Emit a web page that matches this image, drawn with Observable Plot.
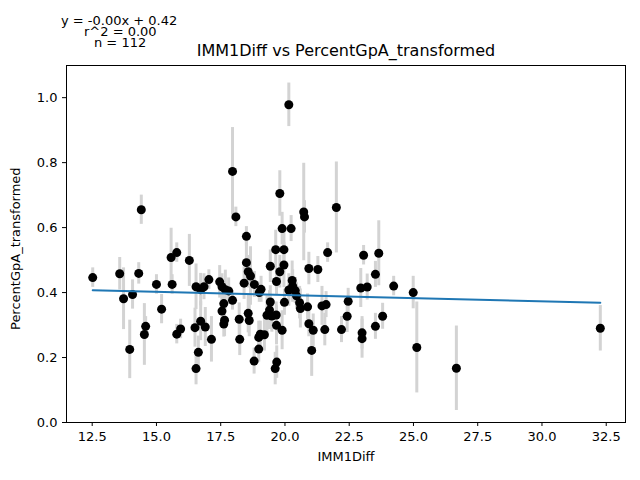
<!DOCTYPE html>
<html><head><meta charset="utf-8">
<script src="https://cdn.jsdelivr.net/npm/d3@7"></script>
<script src="https://cdn.jsdelivr.net/npm/@observablehq/plot@0.6"></script>
<style>
body{margin:0;background:#fff;font-family:"DejaVu Sans",sans-serif}
#wrap{position:relative;width:640px;height:480px}
.t{position:absolute;font-size:13px;white-space:pre;line-height:13px}
</style></head>
<body><div id="wrap"><div id="chart"></div>
<div class="t" style="left:61px;top:14px">y = -0.00x + 0.42</div>
<div class="t" style="left:84px;top:25px">r^2 = 0.00</div>
<div class="t" style="left:94px;top:36px">n = 112</div>
<div class="t" style="left:0;width:692px;text-align:center;top:43px;font-size:16px;line-height:16px">IMM1Diff vs PercentGpA_transformed</div>
<div class="t" style="left:0;width:692px;text-align:center;top:450px">IMM1Diff</div>
<div class="t" style="left:9px;top:243px;transform:translate(0,-50%) rotate(-90deg);transform-origin:7px 50%;width:0"><span style="position:absolute;left:-80px;top:-7px">PercentGpA_transformed</span></div>
</div>
<script>
let imm1Diff = [12.52,13.57,13.72,13.96,14.07,14.41,14.31,14.58,14.53,15.0,15.2,15.57,15.61,15.79,15.79,15.94,16.28,16.54,16.63,16.54,16.5,16.72,16.9,16.72,16.85,17.04,17.14,17.46,17.55,17.68,17.81,17.62,17.55,17.65,17.62,17.96,17.96,18.09,18.22,18.24,18.5,18.5,18.57,18.66,18.41,18.81,18.57,18.61,18.8,19.0,18.98,18.98,
  20.15,19.8,20.73,20.76,22.0,19.89,20.24,19.64,19.96,19.43,19.96,19.8,19.67,20.28,20.15,20.4,20.93,21.28,21.66,23.06,23.65,23.52,22.95,23.2,24.23,24.99,25.13,19.43,19.4,19.49,19.66,19.04,19.2,19.68,19.62,19.67,19.89,19.98,20.57,20.6,20.88,20.93,21.1,21.04,21.44,21.6,21.55,22.2,22.46,22.42,23.0,23.0,23.52,23.8,26.67,32.27,19.07,19.3,20.3,20.45]
let pctGpA = [0.446,0.458,0.381,0.225,0.394,0.655,0.459,0.296,0.271,0.425,0.349,0.508,0.425,0.523,0.272,0.288,0.499,0.166,0.216,0.418,0.292,0.312,0.294,0.409,0.418,0.44,0.256,0.433,0.418,0.409,0.405,0.366,0.343,0.315,0.303,0.376,0.773,0.633,0.318,0.256,0.573,0.492,0.464,0.451,0.429,0.425,0.336,0.314,0.189,0.4,0.262,0.226,
  0.978,0.705,0.648,0.633,0.662,0.597,0.597,0.532,0.532,0.481,0.485,0.464,0.434,0.437,0.408,0.406,0.474,0.471,0.523,0.515,0.521,0.456,0.414,0.417,0.42,0.4,0.231,0.371,0.346,0.328,0.331,0.272,0.27,0.186,0.166,0.299,0.284,0.37,0.369,0.351,0.356,0.304,0.284,0.222,0.359,0.363,0.286,0.286,0.373,0.327,0.276,0.258,0.296,0.327,0.167,0.29,0.41,0.33,0.42,0.39]
let pctErr = [0.03,0.05,0.095,0.09,0.045,0.045,0.033,0.03,0.095,0.03,0.045,0.09,0.03,0.03,0.03,0.03,0.08,0.05,0.05,0.07,0.06,0.06,0.06,0.05,0.04,0.03,0.07,0.05,0.04,0.06,0.04,0.05,0.04,0.05,0.04,0.03,0.135,0.03,0.05,0.05,0.03,0.07,0.05,0.09,0.05,0.04,0.06,0.05,0.04,0.03,0.05,0.04,
  0.067,0.07,0.15,0.05,0.14,0.05,0.04,0.06,0.06,0.05,0.07,0.05,0.04,0.06,0.05,0.04,0.05,0.04,0.03,0.03,0.1,0.04,0.06,0.04,0.03,0.05,0.14,0.05,0.06,0.05,0.04,0.04,0.05,0.05,0.05,0.06,0.06,0.04,0.05,0.06,0.04,0.04,0.05,0.08,0.06,0.04,0.05,0.04,0.04,0.05,0.05,0.06,0.04,0.04,0.13,0.07,0.04,0.06,0.05,0.04]

let data = imm1Diff.map((x, i) => ({x, y: pctGpA[i], e: pctErr[i]}))

let chart = Plot.plot({
  width: 640, height: 480,
  marginLeft: 66, marginRight: 15, marginTop: 65, marginBottom: 58,
  style: {fontFamily: "DejaVu Sans", fontSize: "13px", color: "#000"},
  x: {domain: [11.5, 33.25], ticks: d3.range(12.5, 33, 2.5), tickFormat: ".1f", label: null, tickSize: 4},
  y: {domain: [0, 1.099], ticks: d3.range(0, 1.01, 0.2), tickFormat: ".1f", label: null, tickSize: 4},
  marks: [
    Plot.ruleX(data, {x: "x", y1: d => d.y - d.e, y2: d => d.y + d.e, stroke: "#d3d3d3", strokeWidth: 3}),
    Plot.dot(data, {x: "x", y: "y", r: 4.5, fill: "black"}),
    Plot.linearRegressionY(data, {x: "x", y: "y", stroke: "#1f77b4", strokeWidth: 2, ci: 0}),
    Plot.frame({stroke: "black"})
  ]
})
d3.select('#chart').append(() => chart)
</script></body></html>
